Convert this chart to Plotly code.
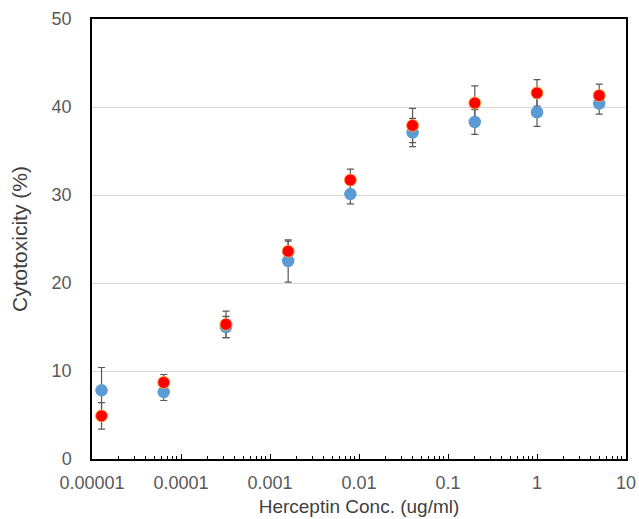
import plotly.graph_objects as go

conc = [0.0000128, 0.000064, 0.00032, 0.0016, 0.008, 0.04, 0.2, 1, 5]
blue_vals = [7.8, 7.6, 15.0, 22.5, 30.1, 37.1, 38.3, 39.4, 40.4]
blue_err = [2.6, 0.95, 1.2, 2.4, 1.1, 1.6, 1.4, 1.6, 1.2]
red_vals = [4.9, 8.7, 15.3, 23.6, 31.7, 37.9, 40.45, 41.6, 41.3]
red_err = [1.5, 0.9, 1.5, 1.15, 1.25, 1.95, 1.95, 1.5, 1.3]

x_tickvals = [0.00001, 0.0001, 0.001, 0.01, 0.1, 1, 10]
x_ticktext = ["0.00001", "0.0001", "0.001", "0.01", "0.1", "1", "10"]
y_tickvals = [0, 10, 20, 30, 40, 50]

BLUE = "#5B9BD5"
RED = "#FF0000"
ERRC = "#595959"

fig = go.Figure()
for vals, err in [(blue_vals, blue_err), (red_vals, red_err)]:
    fig.add_trace(go.Scatter(
        x=conc, y=vals, mode="markers",
        marker=dict(size=12, color="rgba(0,0,0,0)", line=dict(width=0)),
        error_y=dict(type="data", array=err, visible=True, color=ERRC,
                     thickness=1.2, width=3.5),
        showlegend=False, hoverinfo="skip"))
fig.add_trace(go.Scatter(
    x=conc, y=blue_vals, mode="markers",
    marker=dict(size=12.5, color=BLUE, line=dict(width=0)),
    showlegend=False))
fig.add_trace(go.Scatter(
    x=conc, y=red_vals, mode="markers",
    marker=dict(size=12, color=RED, line=dict(width=1, color="#FFA040")),
    showlegend=False))

fig.update_layout(
    width=639, height=519,
    margin=dict(l=91.5, r=13, t=19, b=60),
    paper_bgcolor="white", plot_bgcolor="white",
    font=dict(family="Liberation Sans, Arial, sans-serif", color="#595959", size=18),
    xaxis=dict(
        type="log", range=[-5, 1],
        tickvals=x_tickvals, ticktext=x_ticktext,
        ticks="inside", ticklen=5, tickcolor="black", tickwidth=1,
        minor=dict(ticks="inside", ticklen=3, tickcolor="black", dtick="D1", showgrid=False),
        showgrid=False, zeroline=False, automargin=False,
        showline=True, linecolor="black", linewidth=1.5, mirror=True,
        ticklabelstandoff=7,
        tickfont=dict(size=18, color="#595959"),
        title=dict(text="Herceptin Conc. (ug/ml)", font=dict(size=19, color="#404040"), standoff=7),
    ),
    yaxis=dict(
        range=[0, 50], tickvals=y_tickvals,
        ticks="outside", ticklen=0, ticklabelstandoff=15,
        showgrid=True, gridcolor="#D9D9D9", gridwidth=1,
        zeroline=False, automargin=False,
        showline=True, linecolor="black", linewidth=1.5, mirror=True,
        tickfont=dict(size=18, color="#595959"),
        title=dict(text="Cytotoxicity (%)", font=dict(size=21, color="#404040"), standoff=18),
    ),
)

fig.write_html(
    "out.html",
    config={"displayModeBar": False},
    post_script="document.body.style.margin='0';document.body.style.overflow='hidden';",
)
